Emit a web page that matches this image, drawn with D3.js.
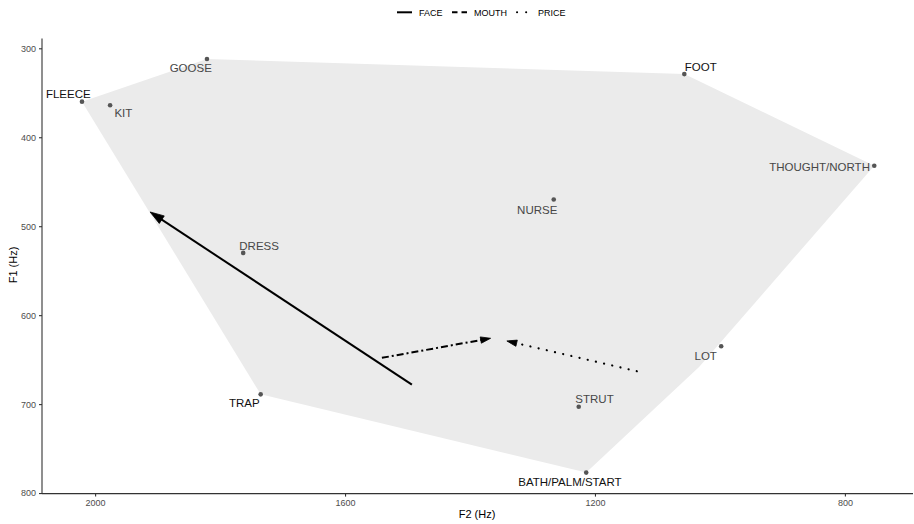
<!DOCTYPE html>
<html>
<head>
<meta charset="utf-8">
<script src="https://cdn.jsdelivr.net/npm/d3@7"></script>
<style>
  html, body { margin: 0; padding: 0; background: #fff; }
  svg { display: block; font-family: "Liberation Sans", Arial, Helvetica, sans-serif; }
</style>
</head>
<body>
<svg id="chart" width="914" height="524"></svg>
<script>
// ---- data ----
const vowels = ["FLEECE", "KIT", "GOOSE", "FOOT", "THOUGHT/NORTH", "NURSE", "LOT", "STRUT", "BATH/PALM/START", "TRAP", "DRESS"];
const vowelF2 = [2021, 1976, 1821, 1057, 753, 1266, 998, 1226, 1214, 1735, 1763];
const vowelF1 = [360, 364, 312, 329, 432, 470, 635, 703, 777, 689, 530];

// shaded vowel-space outline (F2, F1)
const hullF2 = [2021, 1821, 1057, 753, 1033, 1214, 1735];
const hullF1 = [360, 312, 329, 432, 658, 777, 689];

// diphthong trajectories: start -> end
const diphthongs = ["FACE", "MOUTH", "PRICE"];
const diphStartF2 = [1493, 1541, 1133];
const diphStartF1 = [678, 648, 663];
const diphEndF2 = [1912, 1367, 1341];
const diphEndF1 = [484, 626, 629];

const xTicks = [2000, 1600, 1200, 800];
const yTicks = [300, 400, 500, 600, 700, 800];

// ---- styling / layout ----
const dashFor = { FACE: null, MOUTH: "7,3,2,3", PRICE: "0.1,8.3" };
const capFor = { FACE: "butt", MOUTH: "butt", PRICE: "round" };
const headFor = { FACE: [14, 4.5], MOUTH: [10, 3.2], PRICE: [10, 3.2] };
const darkLabels = new Set(["FLEECE", "FOOT", "TRAP", "BATH/PALM/START"]);
const labelNudge = {
  "FLEECE": [-13.7, -4, "middle"],
  "KIT": [13.3, 12, "middle"],
  "GOOSE": [-16.2, 13, "middle"],
  "FOOT": [16.5, -3, "middle"],
  "THOUGHT/NORTH": [-4.3, 5, "end"],
  "NURSE": [-16.5, 14, "middle"],
  "LOT": [-15.5, 13.3, "middle"],
  "STRUT": [15.8, -3.4, "middle"],
  "BATH/PALM/START": [-16.3, 13.3, "middle"],
  "TRAP": [-16.4, 13, "middle"],
  "DRESS": [15.9, -2.6, "middle"]
};

const svg = d3.select("#chart");
const x = d3.scaleLinear().domain([2085, 691]).range([42, 913]);
const y = d3.scaleLinear().domain([290, 800.6]).range([39.4, 493.6]);

// hull
const hullPts = hullF2.map((f2, i) => [x(f2), y(hullF1[i])]);
svg.append("path")
  .attr("d", d3.line()(hullPts) + "Z")
  .attr("fill", "#ebebeb")
  .attr("stroke", "none");

// axes
const xAxis = svg.append("g").attr("transform", `translate(0,${y.range()[1]})`)
  .call(d3.axisBottom(x).tickValues(xTicks).tickSize(3).tickPadding(3).tickFormat(d3.format("d")));
const yAxis = svg.append("g").attr("transform", `translate(${x.range()[0]},0)`)
  .call(d3.axisLeft(y).tickValues(yTicks).tickSize(3).tickPadding(3).tickFormat(d3.format("d")));
[xAxis, yAxis].forEach(g => {
  g.select(".domain").attr("stroke", "#333").attr("stroke-width", 1.1);
  g.selectAll(".tick line").attr("stroke", "#333").attr("stroke-width", 1.1);
  g.selectAll(".tick text").attr("fill", "#4d4d4d").style("font-size", "9px")
    .style("font-family", '"Liberation Sans", Arial, sans-serif');
});
xAxis.select(".domain").attr("d", `M${x.range()[0]},0H${x.range()[1]}`);
yAxis.select(".domain").attr("d", `M0,${y.range()[0] - 1}V${y.range()[1]}`);

// axis titles
svg.append("text").attr("x", 477).attr("y", 518).attr("text-anchor", "middle")
  .style("font-size", "11px").attr("fill", "#000").text("F2 (Hz)");
svg.append("text").attr("transform", "translate(17,265) rotate(-90)").attr("text-anchor", "middle")
  .style("font-size", "11px").attr("fill", "#000").text("F1 (Hz)");

// points
vowels.forEach((v, i) => {
  svg.append("circle").attr("cx", x(vowelF2[i])).attr("cy", y(vowelF1[i]))
    .attr("r", 2.3).attr("fill", "#555");
});

// labels
vowels.forEach((v, i) => {
  const n = labelNudge[v];
  svg.append("text")
    .attr("x", x(vowelF2[i]) + n[0]).attr("y", y(vowelF1[i]) + n[1])
    .attr("text-anchor", n[2])
    .style("font-size", "11.5px")
    .attr("fill", darkLabels.has(v) ? "#111" : "#474747")
    .text(v);
});

// diphthong arrows
diphthongs.forEach((d, i) => {
  const x0 = x(diphStartF2[i]), y0 = y(diphStartF1[i]);
  const x1 = x(diphEndF2[i]), y1 = y(diphEndF1[i]);
  const ang = Math.atan2(y1 - y0, x1 - x0);
  const [L, W] = headFor[d];
  const bx = x1 - L * Math.cos(ang), by = y1 - L * Math.sin(ang);
  svg.append("line")
    .attr("x1", x0).attr("y1", y0)
    .attr("x2", x1 - 4 * Math.cos(ang)).attr("y2", y1 - 4 * Math.sin(ang))
    .attr("stroke", "#000").attr("stroke-width", d === "PRICE" ? 2.2 : 2)
    .attr("stroke-linecap", capFor[d])
    .attr("stroke-dasharray", dashFor[d]);
  const px = -Math.sin(ang), py = Math.cos(ang);
  svg.append("path")
    .attr("d", `M${x1},${y1}L${bx + W * px},${by + W * py}L${bx - W * px},${by - W * py}Z`)
    .attr("fill", "#000").attr("stroke", "#000").attr("stroke-width", 0.8);
});

// legend
const legend = svg.append("g");
const keyX = [397, 452, 517];
diphthongs.forEach((d, i) => {
  legend.append("line")
    .attr("x1", keyX[i]).attr("x2", keyX[i] + 15)
    .attr("y1", 12.3).attr("y2", 12.3)
    .attr("stroke", "#000").attr("stroke-width", 2)
    .attr("stroke-linecap", capFor[d])
    .attr("stroke-dasharray", d === "FACE" ? null : (d === "MOUTH" ? "5.5,4" : "0.1,9"));
  legend.append("text")
    .attr("x", keyX[i] + (d === "PRICE" ? 21 : 22)).attr("y", 15.5)
    .style("font-size", "9px").attr("fill", "#000").text(d);
});
</script>
</body>
</html>
